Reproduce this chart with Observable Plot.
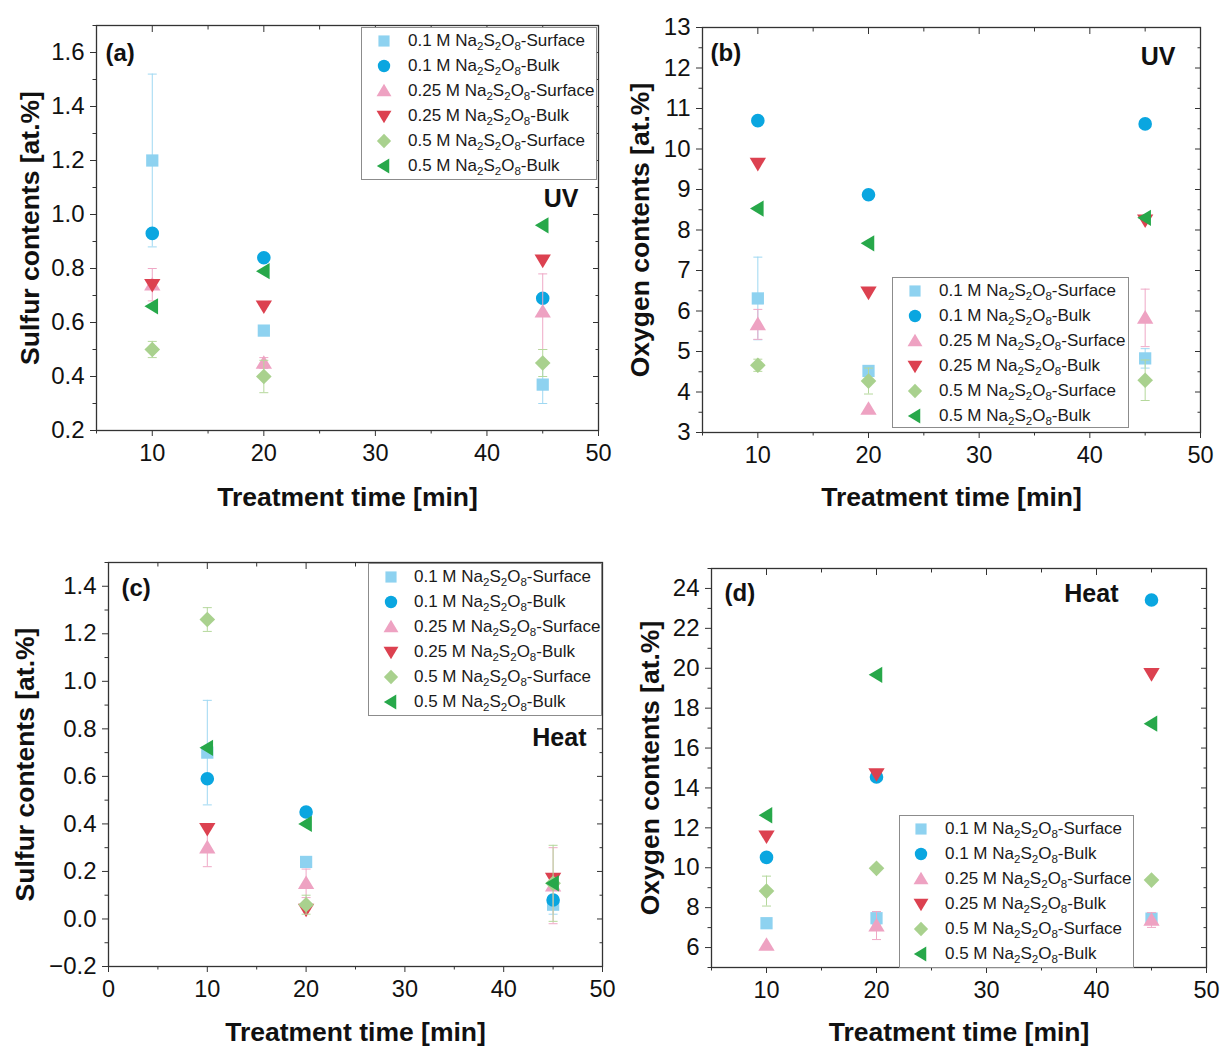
<!DOCTYPE html>
<html><head><meta charset="utf-8">
<script src="https://cdn.jsdelivr.net/npm/d3@7"></script>
<script src="https://cdn.jsdelivr.net/npm/@observablehq/plot@0.6"></script>
<style>
body{margin:0;background:#fff;}
#root{position:relative;width:1223px;height:1049px;background:#fff;font-family:"Liberation Sans",Arial,sans-serif;overflow:hidden}
.panel{position:absolute}
.legend{position:absolute;border:1px solid #8c8c8c;background:#fff;box-sizing:border-box}
.row{position:absolute;left:0;height:25px;white-space:nowrap;font-size:17px;color:#1a1a1a;line-height:25px}
.row svg{position:absolute;top:2.5px}
.row span{position:absolute;top:0}
sub{font-size:68%;vertical-align:-0.32em;line-height:0}
</style></head><body><div id="root"></div>
<script>
// ---------------- data ----------------
const times = [10, 20, 45];
const concentrations = ["0.1", "0.1", "0.25", "0.25", "0.5", "0.5"];
const layers = ["Surface", "Bulk", "Surface", "Bulk", "Surface", "Bulk"];
const colors = ["#8ed2f0", "#0aa6e0", "#eea2c2", "#dc4150", "#a9d18e", "#27a84a"];
const errColors = ["#9fd8f2", "#5cc0ea", "#efa8c6", "#e06a75", "#b5d89c", "#5cbc73"];

// panel (a) UV sulfur
const aValues = [
  [1.20, 0.57, 0.37],
  [0.93, 0.84, 0.69],
  [0.74, 0.45, 0.64],
  [0.74, 0.66, 0.83],
  [0.50, 0.40, 0.45],
  [0.66, 0.79, 0.96]
];
const aErrors = [
  [0.32, null, 0.07],
  [null, null, null],
  [0.06, 0.02, 0.14],
  [null, null, null],
  [0.03, 0.06, 0.05],
  [null, null, null]
];
// panel (b) UV oxygen
const bValues = [
  [6.31, 4.52, 4.83],
  [10.70, 8.87, 10.62],
  [5.67, 3.58, 5.83],
  [9.64, 6.46, 8.24],
  [4.66, 4.27, 4.29],
  [8.53, 7.67, 8.30]
];
const bErrors = [
  [1.02, 0.12, 0.24],
  [null, null, null],
  [0.37, null, 0.71],
  [null, null, null],
  [0.15, 0.32, 0.50],
  [null, null, null]
];
// panel (c) Heat sulfur
const cValues = [
  [0.70, 0.24, 0.06],
  [0.59, 0.45, 0.08],
  [0.30, 0.15, 0.14],
  [0.38, 0.04, 0.17],
  [1.26, 0.06, 0.15],
  [0.72, 0.40, 0.15]
];
const cErrors = [
  [0.22, null, 0.04],
  [null, null, null],
  [0.08, 0.06, 0.16],
  [null, null, null],
  [0.05, 0.04, 0.16],
  [null, null, null]
];
// panel (d) Heat oxygen
const dValues = [
  [7.22, 7.47, 7.45],
  [10.52, 14.55, 23.42],
  [6.13, 7.10, 7.38],
  [11.58, 14.70, 19.72],
  [8.83, 9.97, 9.38],
  [12.63, 19.67, 17.22]
];
const dErrors = [
  [null, 0.33, null],
  [null, null, null],
  [null, 0.70, 0.37],
  [null, null, null],
  [0.75, null, null],
  [null, null, null]
];

// ---------------- symbols ----------------
function poly(pts) {
  return {draw(ctx, size) {
    const r = Math.sqrt(size / Math.PI);
    ctx.moveTo(pts[0][0] * r, pts[0][1] * r);
    for (let i = 1; i < pts.length; i++) ctx.lineTo(pts[i][0] * r, pts[i][1] * r);
    ctx.closePath();
  }};
}
const symSquare = poly([[-0.9, -0.9], [0.9, -0.9], [0.9, 0.9], [-0.9, 0.9]]);
const symCircle = {draw(ctx, size) { const r = Math.sqrt(size / Math.PI); ctx.moveTo(r, 0); ctx.arc(0, 0, r, 0, 2 * Math.PI); }};
const symUp = poly([[0, -1.15], [1.2, 0.85], [-1.2, 0.85]]);
const symDown = poly([[0, 1.15], [1.2, -0.85], [-1.2, -0.85]]);
const symDiamond = poly([[0, -1.15], [1.15, 0], [0, 1.15], [-1.15, 0]]);
const symLeft = poly([[-1.15, 0], [0.85, -1.2], [0.85, 1.2]]);
const symbols = [symSquare, symCircle, symUp, symDown, symDiamond, symLeft];
const capSym = {draw(ctx, size) { const r = Math.sqrt(size / Math.PI); ctx.moveTo(-r, 0); ctx.lineTo(r, 0); }};

const rnd = v => +v.toFixed(3);
const range = (a, b, s) => d3.range(a, b + s / 2, s).map(rnd);

const panels = [
  {id: "a", left: 0, top: 0, W: 612, H: 525, m: [25, 14, 95, 96], values: aValues, errors: aErrors,
   xdom: [5, 50], xMajor: range(10, 50, 10), xMinor: range(5, 45, 10),
   ydom: [0.2, 1.7], yMajor: range(0.2, 1.6, 0.2), yMinor: range(0.3, 1.7, 0.2), fmt: d3.format(".1f"),
   ylabel: "Sulfur contents [at.%]", yl: -66, xl: 67, tag: "(a)", tagd: [9, 28], cond: "UV", condd: [-20, 173],
   legend: [361, 27, 236, 153, 22, 46]},
  {id: "b", left: 612, top: 0, W: 611, H: 525, m: [27, 23, 93, 90], values: bValues, errors: bErrors,
   xdom: [5, 50], xMajor: range(10, 50, 10), xMinor: range(5, 45, 10),
   ydom: [3, 13], yMajor: range(3, 13, 1), yMinor: range(3.5, 12.5, 1), fmt: d3.format("d"),
   ylabel: "Oxygen contents [at.%]", yl: -62, xl: 65, tag: "(b)", tagd: [8, 26], cond: "UV", condd: [-25, 29],
   legend: [892, 277, 237, 151, 22, 46]},
  {id: "c", left: 0, top: 525, W: 612, H: 524, m: [37, 10, 83, 108], values: cValues, errors: cErrors,
   xdom: [0, 50], xMajor: range(0, 50, 10), xMinor: range(5, 45, 10),
   ydom: [-0.2, 1.5], yMajor: range(-0.2, 1.4, 0.2), yMinor: range(-0.1, 1.5, 0.2), fmt: d3.format(".1f"),
   ylabel: "Sulfur contents [at.%]", yl: -83, xl: 66, tag: "(c)", tagd: [13, 26], cond: "Heat", condd: [-16, 175],
   legend: [368, 563, 234, 153, 22, 45]},
  {id: "d", left: 612, top: 525, W: 611, H: 524, m: [43, 17, 82, 99], values: dValues, errors: dErrors,
   xdom: [5, 50], xMajor: range(10, 50, 10), xMinor: range(5, 45, 10),
   ydom: [5, 25], yMajor: range(6, 24, 2), yMinor: range(5, 25, 2), fmt: d3.format("d"),
   ylabel: "Oxygen contents [at.%]", yl: -61, xl: 65, tag: "(d)", tagd: [13, 25], cond: "Heat", condd: [-88, 25],
   legend: [899, 815, 235, 153, 21, 45]}
];

const root = document.getElementById("root");
const ink = "#111";

for (const p of panels) {
  const marks = [];
  for (let s = 0; s < 6; s++) {
    const d = times.map((t, i) => ({t, v: p.values[s][i], e: p.errors[s][i]}));
    const eb = d.filter(r => r.e != null).map(r => ({t: r.t, lo: r.v - r.e, hi: r.v + r.e}));
    marks.push(Plot.ruleX(eb, {x: "t", y1: "lo", y2: "hi", stroke: errColors[s], strokeWidth: 1}));
    marks.push(Plot.dot(eb, {x: "t", y: "lo", symbol: capSym, r: 4.5, stroke: errColors[s], fill: "none", strokeWidth: 1}));
    marks.push(Plot.dot(eb, {x: "t", y: "hi", symbol: capSym, r: 4.5, stroke: errColors[s], fill: "none", strokeWidth: 1}));
    marks.push(Plot.dot(d, {x: "t", y: "v", symbol: symbols[s], r: 6.8, fill: colors[s], stroke: "none"}));
  }
  const svg = Plot.plot({
    width: p.W, height: p.H,
    marginTop: p.m[0], marginRight: p.m[1], marginBottom: p.m[2], marginLeft: p.m[3],
    x: {domain: p.xdom},
    y: {domain: p.ydom},
    style: {fontFamily: '"Liberation Sans", Arial, sans-serif', fontSize: "23px", color: ink, background: "transparent", overflow: "visible"},
    marks: [
      ...marks,
      Plot.frame({stroke: "#333", strokeWidth: 1.3}),
      Plot.axisX(p.xMajor, {anchor: "bottom", tickSize: 6, tickPadding: 8, label: null, fontSize: 23.5, stroke: "#333"}),
      Plot.axisX(p.xMinor, {anchor: "bottom", tickSize: 3.5, fill: "none", label: null, stroke: "#333"}),
      Plot.axisX(p.xMajor, {anchor: "top", tickSize: -6, fill: "none", label: null, stroke: "#333"}),
      Plot.axisX(p.xMinor, {anchor: "top", tickSize: -3.5, fill: "none", label: null, stroke: "#333"}),
      Plot.axisY(p.yMajor, {anchor: "left", tickSize: 6, tickPadding: 6, tickFormat: p.fmt, label: null, fontSize: 24, stroke: "#333"}),
      Plot.axisY(p.yMinor, {anchor: "left", tickSize: 3.5, fill: "none", label: null, stroke: "#333"}),
      Plot.axisY(p.yMajor, {anchor: "right", tickSize: -6, fill: "none", label: null, stroke: "#333"}),
      Plot.axisY(p.yMinor, {anchor: "right", tickSize: -3.5, fill: "none", label: null, stroke: "#333"}),
      Plot.text([p.ylabel], {text: d => d, frameAnchor: "left", rotate: -90, dx: p.yl, fontWeight: "bold", fontSize: 26.5, lineAnchor: "middle", textAnchor: "middle", fill: ink}),
      Plot.text(["Treatment time [min]"], {text: d => d, frameAnchor: "bottom", dy: p.xl, fontWeight: "bold", fontSize: 26.5, lineAnchor: "middle", textAnchor: "middle", fill: ink}),
      Plot.text([p.tag], {text: d => d, frameAnchor: "top-left", dx: p.tagd[0], dy: p.tagd[1], fontWeight: "bold", fontSize: 24, textAnchor: "start", lineAnchor: "middle", fill: ink}),
      Plot.text([p.cond], {text: d => d, frameAnchor: "top-right", dx: p.condd[0], dy: p.condd[1], fontWeight: "bold", fontSize: 25, textAnchor: "end", lineAnchor: "middle", fill: ink})
    ]
  });
  const holder = document.createElement("div");
  holder.className = "panel";
  holder.style.left = p.left + "px";
  holder.style.top = p.top + "px";
  holder.appendChild(svg);
  root.appendChild(holder);

  // legend box
  const [lx, ly, lw, lh, symX, textX] = p.legend;
  const box = document.createElement("div");
  box.className = "legend";
  Object.assign(box.style, {left: lx + "px", top: ly + "px", width: lw + "px", height: lh + "px"});
  for (let s = 0; s < 6; s++) {
    const row = document.createElement("div");
    row.className = "row";
    row.style.top = (0 + s * 25) + "px";
    row.style.width = (lw - 2) + "px";
    const path = d3.symbol(symbols[s], Math.PI * 6.2 * 6.2)();
    row.innerHTML = `<svg width="20" height="20" style="left:${symX - 10}px"><path transform="translate(10,10)" d="${path}" fill="${colors[s]}"/></svg>` +
      `<span style="left:${textX}px">${concentrations[s]} M Na<sub>2</sub>S<sub>2</sub>O<sub>8</sub>-${layers[s]}</span>`;
    box.appendChild(row);
  }
  root.appendChild(box);
}
</script></body></html>
